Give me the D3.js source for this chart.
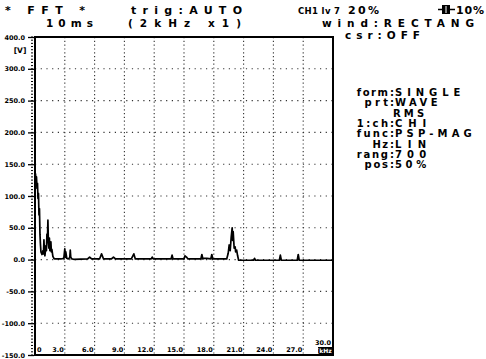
<!DOCTYPE html>
<html>
<head>
<meta charset="utf-8">
<script src="https://cdn.jsdelivr.net/npm/d3@7"></script>
<style>
  html, body { margin: 0; padding: 0; background: #fff; }
  svg { display: block; }
  text { font-family: "DejaVu Sans", sans-serif; font-weight: bold; fill: #000; }
</style>
</head>
<body>
<svg id="chart" width="486" height="359"></svg>
<script>
// Spectrum: frequency [kHz] and magnitude [V]
const freqKHz = [0, 0.05, 0.1, 0.15, 0.2, 0.25, 0.3, 0.35, 0.4, 0.45, 0.5, 0.55, 0.6, 0.7, 0.8, 0.85,
  0.9, 0.95, 1.0, 1.1, 1.15, 1.2, 1.25, 1.3, 1.35, 1.4, 1.45, 1.5, 1.55, 1.6, 1.65, 1.7, 1.8, 1.9,
  2.0, 2.6, 2.9, 3.0, 3.05, 3.1, 3.2, 3.35, 3.5, 3.55, 3.6, 3.7, 3.9, 5.3, 5.5, 5.7, 6.5, 6.7, 6.9,
  7.7, 7.9, 8.1, 9.7, 9.85, 9.95, 10.1, 11.7, 11.8, 11.9, 13.7, 13.8, 13.9, 15.0, 15.1, 15.25, 15.4,
  16.7, 16.8, 16.9, 17.0, 17.3, 17.7, 17.8, 17.9, 19.3, 19.45, 19.55, 19.65, 19.75, 19.85, 19.9,
  19.95, 20.05, 20.15, 20.2, 20.3, 20.4, 20.5, 22.0, 22.1, 22.2, 24.6, 24.7, 24.8, 26.4, 26.5, 26.6, 30];
const magV = [128, 135, 122, 130, 112, 120, 96, 104, 70, 80, 40, 24, 12, 8, 14, 9,
  31, 12, 6, 22, 14, 40, 30, 62, 26, 18, 34, 14, 20, 28, 12, 16, 5, 2,
  1, 1, 2, 17, 4, 12, 2, 1, 3, 15, 4, 1, 0.5, 1, 4, 1, 1, 9, 1,
  1, 4, 1, 1, 6, 9, 1, 1, 4, 1, 1, 7, 1, 1, 6, 4, 1,
  1, 8, 1, 2, 2, 1, 8, 1, 1, 10, 23, 14, 35, 50, 30,
  44, 18, 20, 12, 15, 6, -1, -1, 2, -1, -1, 7, -1, -1, 8, -1, -1];

const yTickValues = [350, 300, 250, 200, 150, 100, 50, 0, -50, -100, -150];
const yTickLabels = ["400.0", "300.0", "250.0", "200.0", "150.0", "100.0", "50.0", "0.0", "-50.0", "-100.0", "-150.0"];
const xTickValues = [0, 3, 6, 9, 12, 15, 18, 21, 24, 27];
const xTickLabels = ["0", "3.0", "6.0", "9.0", "12.0", "15.0", "18.0", "21.0", "24.0", "27.0"];

const headerTexts = ["* FFT *", "trig:AUTO", "CH1 lv 7", "20%", "10%", "10ms", "(2kHz x1)", "wind:RECTANG", "csr:OFF"];
const panelKeys = ["form", "prt", "", "1:ch", "func", "Hz", "rang", "pos"];
const panelValues = ["SINGLE", "WAVE", "RMS", "CHI", "PSP-MAG", "LIN", "700", "50%"];

const svg = d3.select("#chart");

// plot frame in pixels
const frame = { left: 35, right: 333, top: 37, bottom: 355 };

const x = d3.scaleLinear().domain([0, 30]).range([frame.left, frame.right]);
const y = d3.scaleLinear().domain([-150, 350]).range([frame.bottom, frame.top]);

// Dotted grid
svg.append("g")
  .selectAll("line")
  .data(xTickValues.slice(1))
  .join("line")
  .attr("x1", d => x(d)).attr("x2", d => x(d))
  .attr("y1", frame.top).attr("y2", frame.bottom)
  .attr("stroke", "#333").attr("stroke-width", 1.1)
  .attr("stroke-dasharray", "1.2,2.6");

svg.append("g")
  .selectAll("line")
  .data(yTickValues.slice(1, -1))
  .join("line")
  .attr("x1", frame.left).attr("x2", frame.right)
  .attr("y1", d => y(d)).attr("y2", d => y(d))
  .attr("stroke", "#333").attr("stroke-width", 1.1)
  .attr("stroke-dasharray", "1.2,4.5");

// Left axis: minor ticks every 5 V, major ticks with labels
const yAxis = d3.axisLeft(y)
  .tickValues(yTickValues)
  .tickSize(6)
  .tickFormat((d, i) => yTickLabels[i]);

svg.append("g")
  .attr("transform", `translate(${frame.left - 1},0)`)
  .call(yAxis)
  .call(g => g.select(".domain").remove())
  .call(g => g.selectAll("line").attr("stroke", "#000").attr("stroke-width", 1.3))
  .call(g => g.selectAll("text")
    .attr("x", -9)
    .style("font-family", "DejaVu Sans")
    .style("font-weight", "bold")
    .style("font-size", "6.5px"));

svg.append("g")
  .selectAll("line")
  .data(d3.range(-150, 351, 5))
  .join("line")
  .attr("x1", frame.left - 4).attr("x2", frame.left - 2)
  .attr("y1", d => y(d)).attr("y2", d => y(d))
  .attr("stroke", "#000").attr("stroke-width", 1);

svg.append("text")
  .attr("x", 20).attr("y", 53)
  .attr("text-anchor", "middle")
  .style("font-size", "7.5px")
  .text("[V]");

// Bottom frequency labels, sitting inside the frame left of each grid line
svg.append("g")
  .selectAll("text")
  .data(xTickValues)
  .join("text")
  .attr("x", (d, i) => i === 0 ? x(d) + 2 : x(d) - 1)
  .attr("y", frame.bottom - 3)
  .attr("text-anchor", (d, i) => i === 0 ? "start" : "end")
  .style("font-size", "6.5px")
  .text((d, i) => xTickLabels[i]);

svg.append("text")
  .attr("x", frame.right - 2).attr("y", frame.bottom - 10)
  .attr("text-anchor", "end")
  .style("font-size", "6.5px")
  .text("30.0");

svg.append("rect")
  .attr("x", frame.right - 15).attr("y", frame.bottom - 8)
  .attr("width", 15).attr("height", 8)
  .attr("fill", "#000");
svg.append("text")
  .attr("x", frame.right - 7.5).attr("y", frame.bottom - 1.8)
  .attr("text-anchor", "middle")
  .style("font-size", "6px")
  .style("fill", "#fff")
  .text("[kHz]");

// Spectrum trace
const spectrum = freqKHz.map((f, i) => [f, magV[i]]);
svg.append("path")
  .datum(spectrum)
  .attr("fill", "none")
  .attr("stroke", "#000")
  .attr("stroke-width", 1.7)
  .attr("stroke-linejoin", "round")
  .attr("d", d3.line().x(d => x(d[0])).y(d => y(d[1])));

// Frame
svg.append("rect")
  .attr("x", frame.left).attr("y", frame.top)
  .attr("width", frame.right - frame.left).attr("height", frame.bottom - frame.top)
  .attr("fill", "none")
  .attr("stroke", "#000").attr("stroke-width", 2);

// Header lines
const headerLayout = [
  { x: 5, y: 14, len: 80, size: 11 },
  { x: 131, y: 14, len: 111, size: 11 },
  { x: 298, y: 13.5, len: 42, size: 8.5 },
  { x: 348, y: 14, len: 31, size: 11 },
  { x: 456, y: 14, len: 28, size: 11 },
  { x: 46, y: 26.5, len: 47, size: 10.5 },
  { x: 128, y: 26.5, len: 113, size: 10.5 },
  { x: 322, y: 26.5, len: 152, size: 10.5 },
  { x: 345, y: 39, len: 75, size: 10.5 }
];

svg.append("g")
  .selectAll("text")
  .data(headerTexts)
  .join("text")
  .attr("x", (d, i) => headerLayout[i].x)
  .attr("y", (d, i) => headerLayout[i].y)
  .attr("textLength", (d, i) => headerLayout[i].len)
  .attr("lengthAdjust", "spacing")
  .style("font-size", (d, i) => headerLayout[i].size + "px")
  .text(d => d);

// trigger level marker before "10%"
svg.append("line")
  .attr("x1", 438).attr("x2", 455).attr("y1", 9.5).attr("y2", 9.5)
  .attr("stroke", "#000").attr("stroke-width", 1.5);
svg.append("rect")
  .attr("x", 442).attr("y", 5).attr("width", 8).attr("height", 9)
  .attr("fill", "#000");
svg.append("line")
  .attr("x1", 446).attr("x2", 446).attr("y1", 6).attr("y2", 13)
  .attr("stroke", "#fff").attr("stroke-width", 1);

// Right settings panel, aligned on the colon
const colonX = 392;
const panelBaselines = [96, 106, 116.5, 127, 137, 147.5, 157.5, 168];
const panel = svg.append("g").style("font-size", "10px");

panelKeys.forEach((k, i) => {
  const yy = panelBaselines[i];
  if (k) {
    panel.append("text")
      .attr("x", colonX - 4).attr("y", yy)
      .attr("text-anchor", "end")
      .attr("textLength", k.length * 7.8)
      .attr("lengthAdjust", "spacing")
      .text(k);
    panel.append("text")
      .attr("x", colonX).attr("y", yy)
      .attr("text-anchor", "middle")
      .text(":");
  }
  const v = panelValues[i];
  panel.append("text")
    .attr("x", k ? colonX + 3 : colonX + 1).attr("y", yy)
    .attr("textLength", v.length * 11.4 - 3)
    .attr("lengthAdjust", "spacing")
    .text(v);
});
</script>
</body>
</html>
